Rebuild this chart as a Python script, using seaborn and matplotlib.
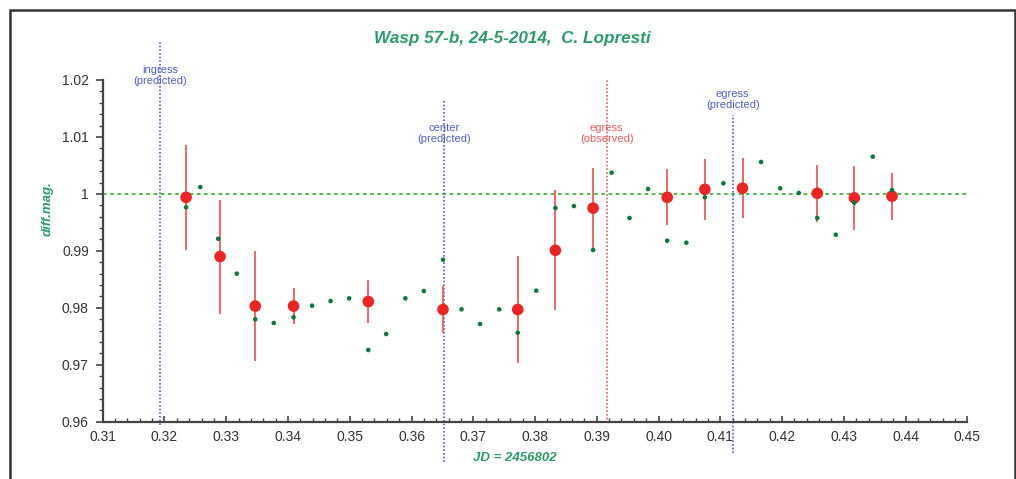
import numpy as np
import pandas as pd
import matplotlib
matplotlib.use("Agg")
import matplotlib.pyplot as plt
import matplotlib.transforms as mtransforms
from matplotlib.patches import Rectangle
from matplotlib.ticker import MultipleLocator, FuncFormatter
import seaborn as sns

# Individual differential magnitudes (JD - 2456802)
raw_jd = [0.3235, 0.3258, 0.3287, 0.3317, 0.3347, 0.3377, 0.3409, 0.3439,
          0.3469, 0.3499, 0.3530, 0.3559, 0.3590, 0.3620, 0.3651, 0.3681,
          0.3711, 0.3742, 0.3772, 0.3802, 0.3833, 0.3863, 0.3894, 0.3924,
          0.3953, 0.3983, 0.4014, 0.4045, 0.4075, 0.4105, 0.4166, 0.4197,
          0.4227, 0.4257, 0.4287, 0.4317, 0.4347, 0.4378]
raw_mag = [0.99764, 1.00120, 0.99213, 0.98599, 0.97798, 0.97733, 0.97833, 0.98037,
           0.98119, 0.98166, 0.97259, 0.97540, 0.98166, 0.98295, 0.98844, 0.97973,
           0.97715, 0.97973, 0.97563, 0.98300, 0.99752, 0.99787, 0.99015, 1.00372,
           0.99577, 1.00086, 0.99178, 0.99143, 0.99940, 1.00186, 1.00560, 1.00098,
           1.00016, 0.99577, 0.99283, 0.99846, 1.00654, 1.00068]

# Binned means with their uncertainties
bin_jd = [0.3235, 0.3290, 0.3347, 0.3409, 0.3530, 0.3651, 0.3772, 0.3833,
          0.3894, 0.4014, 0.4075, 0.4136, 0.4257, 0.4317, 0.4378]
bin_mag = [0.9994, 0.9890, 0.9803, 0.9803, 0.9811, 0.9797, 0.9797, 0.9901,
           0.9975, 0.9994, 1.0008, 1.0010, 1.0001, 0.9993, 0.9996]
bin_err = [0.0092, 0.0100, 0.0096, 0.0032, 0.0037, 0.0042, 0.0094, 0.0105,
           0.0071, 0.0049, 0.0053, 0.0053, 0.0050, 0.0056, 0.0041]

# Transit events
event_jd = [0.3193, 0.3653, 0.3916, 0.4120]
event_text = ["ingress\n(predicted)", "center\n(predicted)",
              "egress\n(observed)", "egress\n(predicted)"]

raw = pd.DataFrame({"jd": raw_jd, "mag": raw_mag})
binned = pd.DataFrame({"jd": bin_jd, "mag": bin_mag, "err": bin_err})

GREEN_TXT = "#2a9c6c"
GREEN_PT = "#0c7a3c"
GREEN_LINE = "#3cb83c"
RED = "#ec2424"
RED_BAR = "#f05a5a"
BLUE = "#5060cc"
AXC = "#444444"

sns.set_style("white")
plt.rcParams["font.family"] = ["Liberation Sans", "DejaVu Sans"]

fig = plt.figure(figsize=(10.16, 4.79), dpi=100)
ax = fig.add_axes([0.1011, 0.1196, 0.8510, 0.7134])

# reference level
ax.axhline(1.0, color=GREEN_LINE, lw=1.3, ls=(0, (2, 2)), zorder=1)

# event markers (lines reach past the axes box)
ev_style = [
    dict(color=BLUE, top=1.114, bottom=-0.010, ty=1.014),
    dict(color=BLUE, top=0.9415, bottom=-0.118, ty=0.8434),
    dict(color=RED_BAR, top=1.0, bottom=-0.003, ty=0.8434),
    dict(color=BLUE, top=0.8976, bottom=-0.092, ty=0.943),
]
trans = mtransforms.blended_transform_factory(ax.transData, ax.transAxes)
for xv, txt, st in zip(event_jd, event_text, ev_style):
    ax.axvline(xv, ymin=st["bottom"], ymax=st["top"], color=st["color"],
               lw=1.2, ls=(0, (1, 1.2)), clip_on=False, zorder=1)
    ax.text(xv, st["ty"], txt, transform=trans, ha="center", va="center",
            fontsize=8, color=st["color"], linespacing=1.15, zorder=3)

# error bars of the binned points
ax.vlines(binned["jd"], binned["mag"] - binned["err"], binned["mag"] + binned["err"],
          color=RED_BAR, lw=1.3, zorder=2)

sns.scatterplot(data=binned, x="jd", y="mag", ax=ax, s=70, color=RED,
                edgecolor="none", zorder=4, legend=False)
sns.scatterplot(data=raw, x="jd", y="mag", ax=ax, s=11, color=GREEN_PT,
                edgecolor="none", zorder=5, legend=False)

ax.set_xlim(0.31, 0.45)
ax.set_ylim(0.96, 1.02)

ax.xaxis.set_major_locator(MultipleLocator(0.01))
ax.xaxis.set_minor_locator(MultipleLocator(0.002))
ax.yaxis.set_major_locator(MultipleLocator(0.01))
ax.yaxis.set_minor_locator(MultipleLocator(0.002))
ax.xaxis.set_major_formatter(FuncFormatter(lambda v, p: f"{v:.2f}"))
ax.yaxis.set_major_formatter(FuncFormatter(lambda v, p: f"{round(v, 3):g}"))

for side in ("top", "right"):
    ax.spines[side].set_visible(False)
for side in ("left", "bottom"):
    ax.spines[side].set_color(AXC)
    ax.spines[side].set_linewidth(1.6)

ax.tick_params(axis="y", which="major", direction="out", length=5, width=1.2,
               color=AXC, labelsize=10, labelcolor="#333333", pad=5, left=True)
ax.tick_params(axis="y", which="minor", direction="out", length=3, width=1.0,
               color=AXC, left=True)
ax.tick_params(axis="x", which="major", direction="in", length=4, width=1.2,
               color=AXC, labelsize=10, labelcolor="#333333", pad=6, bottom=True)
ax.tick_params(axis="x", which="minor", direction="in", length=3, width=1.0,
               color=AXC, bottom=True)

ax.set_xlabel("")
ax.set_ylabel("")
ax.text(0.4769, -0.106, "JD = 2456802", transform=ax.transAxes, ha="center",
        va="center", fontsize=9.5, fontweight="bold", fontstyle="italic",
        color=GREEN_TXT)
ax.text(-0.0633, 0.6225, "diff.mag.", transform=ax.transAxes, ha="center",
        va="center", rotation=90, fontsize=9.5, fontweight="bold",
        fontstyle="italic", color=GREEN_TXT)

fig.text(512 / 1016, 1 - 38 / 479, "Wasp 57-b, 24-5-2014,  C. Lopresti",
         ha="center", va="center", fontsize=12.3, fontweight="bold",
         fontstyle="italic", color=GREEN_TXT)

# outer frame
fig.patches.append(Rectangle((10 / 1016, -0.05), 1005 / 1016, 1.05 - 10 / 479,
                             transform=fig.transFigure, fill=False,
                             edgecolor="#333333", lw=1.8))

fig.savefig("out.png", dpi=100)
